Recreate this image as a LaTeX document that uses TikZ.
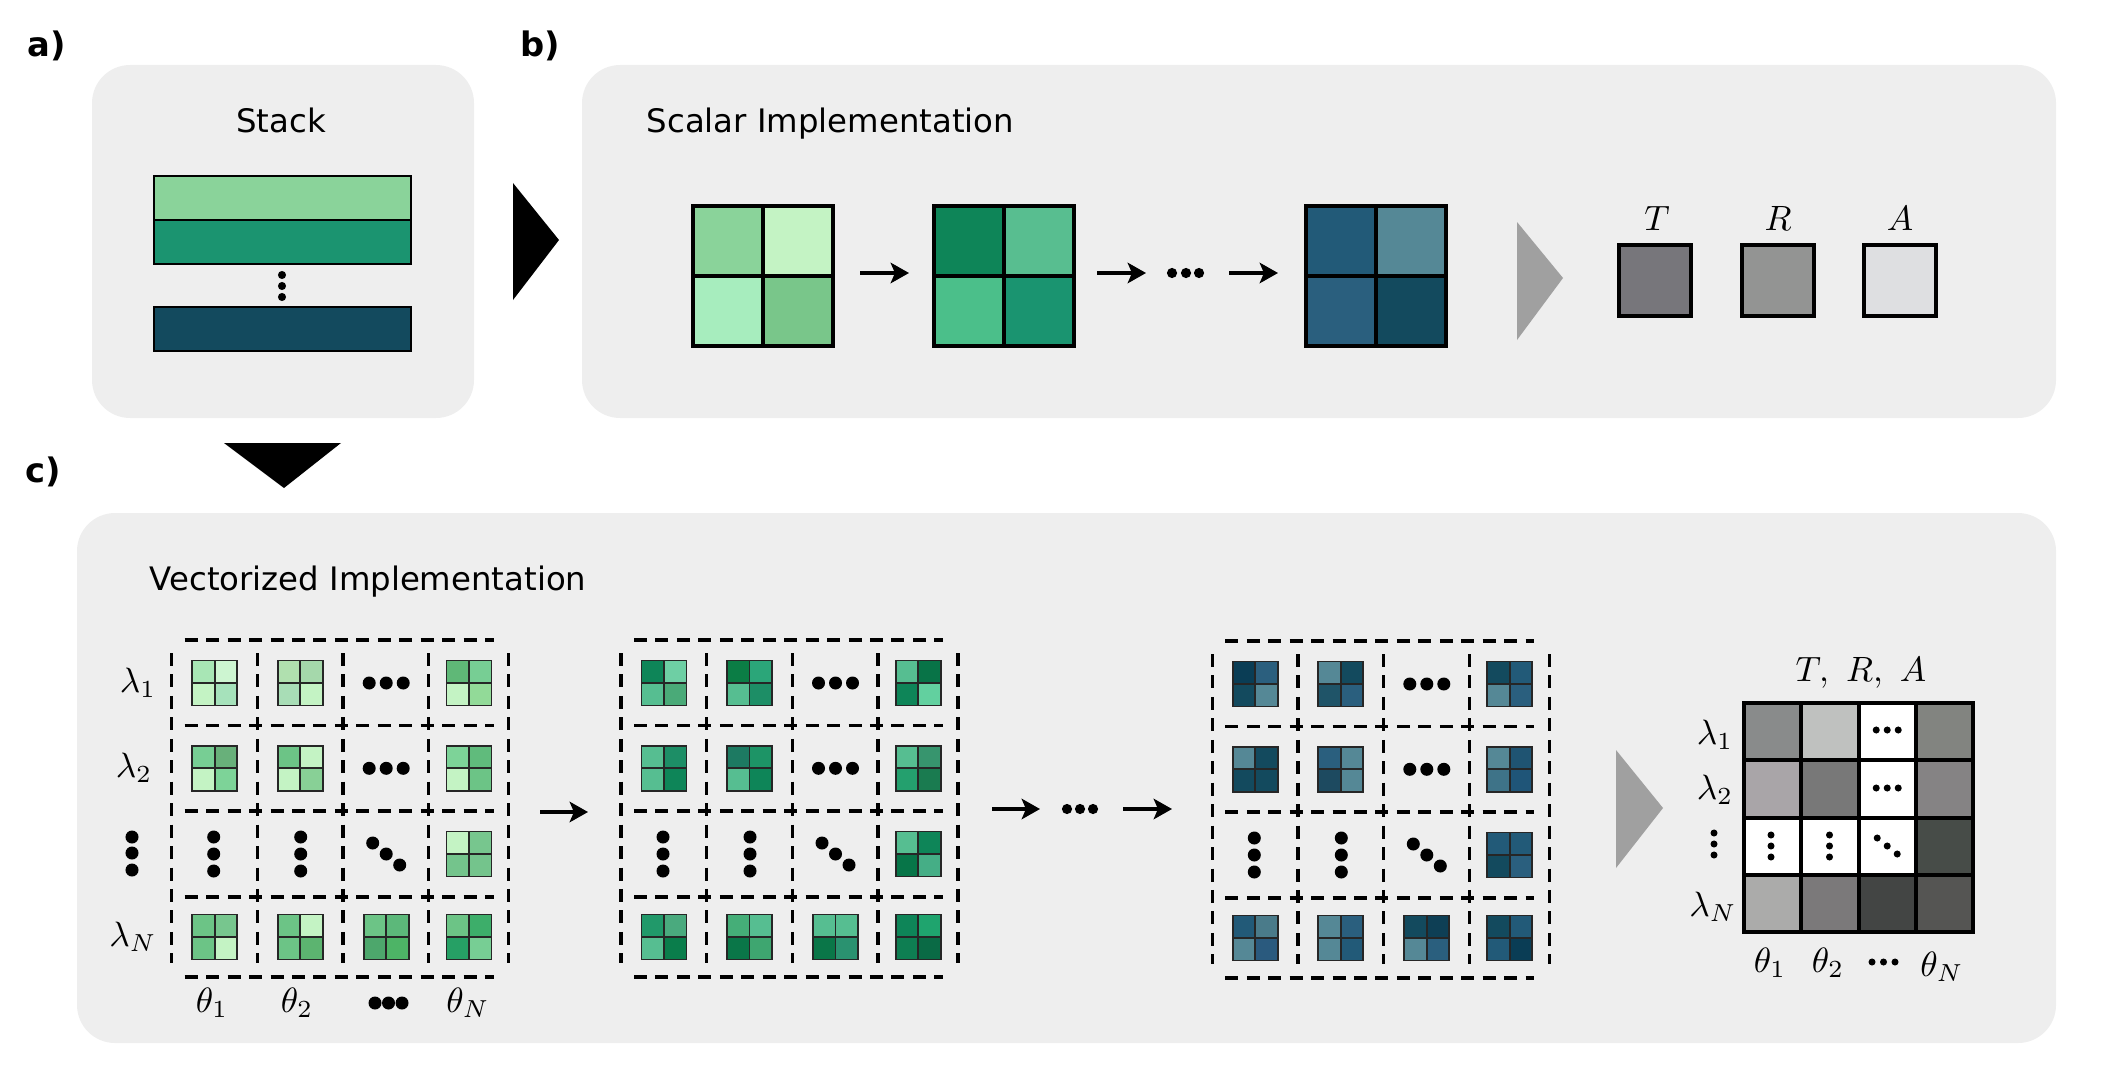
\documentclass[tikz,border=0pt]{standalone}
\usepackage{fontspec}
\usetikzlibrary{arrows.meta}
\newfontfamily\dvs{DejaVu Sans}
\definecolor{panel}{HTML}{EEEEEE}
\definecolor{tri}{HTML}{A0A0A0}
\tikzset{
  title/.style={font=\dvs\fontsize{9.2}{11}\selectfont, inner sep=0pt},
  plabel/.style={font=\dvs\bfseries\fontsize{9.6}{11}\selectfont, inner sep=0pt},
  mlab/.style={font=\fontsize{9.6}{11}\selectfont, inner sep=0pt},
  panelbox/.style={fill=panel, rounded corners=0.38cm},
  dashline/.style={line width=0.95pt, dash pattern=on 3.7pt off 2.4pt},
  smline/.style={line width=0.55pt, draw=black!85},
  bigline/.style={line width=1.14pt},
  arr/.style={line width=1.14pt, -{Stealth[length=5.2pt,width=5.8pt,inset=1.2pt]}},
}
\newcommand{\mysq}[6]{%
  \definecolor{qa}{HTML}{#3}\definecolor{qb}{HTML}{#4}%
  \definecolor{qc}{HTML}{#5}\definecolor{qd}{HTML}{#6}%
  \fill[qa] (#1-22.5,#2-22.5) rectangle (#1,#2);
  \fill[qb] (#1,#2-22.5) rectangle (#1+22.5,#2);
  \fill[qc] (#1-22.5,#2) rectangle (#1,#2+22.5);
  \fill[qd] (#1,#2) rectangle (#1+22.5,#2+22.5);
  \draw[smline] (#1-22.5,#2-22.5) rectangle (#1+22.5,#2+22.5)
     (#1,#2-22.5) -- (#1,#2+22.5) (#1-22.5,#2) -- (#1+22.5,#2);
}
\newcommand{\mybig}[6]{%
  \definecolor{qa}{HTML}{#3}\definecolor{qb}{HTML}{#4}%
  \definecolor{qc}{HTML}{#5}\definecolor{qd}{HTML}{#6}%
  \fill[qa] (#1,#2) rectangle (#1+72,#2+72);
  \fill[qb] (#1+72,#2) rectangle (#1+144,#2+72);
  \fill[qc] (#1,#2+72) rectangle (#1+72,#2+144);
  \fill[qd] (#1+72,#2+72) rectangle (#1+144,#2+144);
  \draw[bigline] (#1+2,#2+2) rectangle (#1+142,#2+142)
     (#1+72,#2) -- (#1+72,#2+144) (#1,#2+72) -- (#1+144,#2+72);
}
\newcommand{\gridframe}{%
  \foreach \v in {0,85.7,171.4,257,337} \draw[dashline] (\v,13) -- (\v,323);
  \foreach \h in {0,85.7,171,257,337} \draw[dashline] (13,\h) -- (322,\h);
  \foreach \yy in {43,128.3} \foreach \dx in {-17,0,17} \fill (214.5+\dx,\yy) circle[radius=1.85pt];
  \foreach \xx in {42,129} \foreach \dy in {-17,0,17} \fill (\xx,214+\dy) circle[radius=1.85pt];
  \foreach \d in {-1,0,1} \fill (214.5+13.5*\d,214+11*\d) circle[radius=1.85pt];
}
\begin{document}
\begin{tikzpicture}[x=0.01cm,y=-0.01cm]
\useasboundingbox (0,0) rectangle (2113,1070);
% panels
\fill[panelbox] (92,65) rectangle (474,418);
\fill[panelbox] (582,65) rectangle (2056,418);
\fill[panelbox] (77,513) rectangle (2056,1043);
% labels
\node[plabel, anchor=base west] (la) at (27,57) {a)};
\node[plabel, anchor=base west] (lb) at (520,57) {b)};
\node[plabel, anchor=base west] (lc) at (25,482) {c)};
% panel a
\node[title, anchor=base] (stack) at (281,133) {Stack};
\draw[line width=0.5pt, fill={rgb,255:red,138;green,211;blue,154}] (154,176) rectangle (411,220);
\draw[line width=0.5pt, fill={rgb,255:red,27;green,148;blue,112}] (154,220) rectangle (411,264);
\draw[line width=0.5pt, fill={rgb,255:red,19;green,74;blue,94}] (154,307) rectangle (411,351);
\foreach \yy in {275,286,297} \fill (282,\yy) circle[radius=1.15pt];
% black triangles
\fill (513,183) -- (559,240) -- (513,300) -- cycle;
\fill (224,443) -- (341,443) -- (284,488) -- cycle;
% panel b
\node[title, anchor=base west] (scalar) at (646,133) {Scalar Implementation};
\mybig{691}{204}{8AD39A}{C4F3C4}{A7EDBE}{79C68A}
\mybig{932}{204}{0E8558}{58BE90}{4BBF8A}{1A9470}
\mybig{1304}{204}{225A78}{558896}{2A5F7E}{134A5E}
\coordinate (b1s) at (860,273); \coordinate (b1e) at (909,273);
\coordinate (b2s) at (1097,273); \coordinate (b2e) at (1146,273);
\coordinate (b3s) at (1229,273); \coordinate (b3e) at (1278,273);
\draw[arr] (b1s) -- (b1e);
\draw[arr] (b2s) -- (b2e);
\draw[arr] (b3s) -- (b3e);
\foreach \xx in {1172,1186,1199} \fill (\xx,273) circle[radius=1.45pt];
\fill[tri] (1517,222) -- (1563,278) -- (1517,340) -- cycle;
\definecolor{cT}{HTML}{77767B}\definecolor{cR}{HTML}{939493}\definecolor{cA}{HTML}{DEDFE1}
\draw[bigline, fill=cT] (1619,245) rectangle (1691,316);
\draw[bigline, fill=cR] (1742,245) rectangle (1814,316);
\draw[bigline, fill=cA] (1864,245) rectangle (1936,316);
\node[mlab] (lT) at (1657,218) {$T$};
\node[mlab] (lR) at (1778,218) {$R$};
\node[mlab] (lA) at (1900,218) {$A$};
% panel c
\node[title, anchor=base west] (vect) at (149,590) {Vectorized Implementation};
% grid 1
\begin{scope}[shift={(171.7,640)}]
\gridframe
\mysq{43}{43}{A8E6B5}{CDF5D1}{C4F3C4}{A6E2BB}
\mysq{128.5}{43}{B0E0AF}{A5D8AB}{A8DDB6}{C4F3C4}
\mysq{297.3}{43}{5FB877}{77CE94}{C4F3C4}{92DA98}
\mysq{43}{128.3}{77CE94}{68B07A}{C4F3C4}{7DD398}
\mysq{128.5}{128.3}{6CC486}{C4F3C4}{C4F3C4}{88D096}
\mysq{297.3}{128.3}{7DD398}{60BB7C}{C4F3C4}{6CC486}
\mysq{297.3}{214}{C4F3C4}{77C68E}{74C48C}{74C48C}
\mysq{43}{297}{6CC486}{77C68E}{6CC486}{C4F3C4}
\mysq{128.5}{297}{6CC486}{C4F3C4}{6CC486}{5CB470}
\mysq{214.5}{297}{6CC486}{5CB87A}{4DA76C}{4DB466}
\mysq{297.3}{297}{6CC486}{3DAE6A}{26A065}{77CE94}
\end{scope}
\node[mlab] (g1l1) at (138,683) {$\lambda_1$};
\node[mlab] (g1l2) at (134,768) {$\lambda_2$};
\foreach \yy in {837,853,870} \fill (132,\yy) circle[radius=1.85pt];
\node[mlab] (g1lN) at (133,937) {$\lambda_N$};
\node[mlab] (g1t1) at (212,1003) {$\theta_1$};
\node[mlab] (g1t2) at (297,1003) {$\theta_2$};
\foreach \xx in {375,388.5,402} \fill (\xx,1003) circle[radius=1.85pt];
\node[mlab] (g1tN) at (468,1003) {$\theta_N$};
% arrow 1->2
\coordinate (c1s) at (540,812); \coordinate (c1e) at (588,812);
\draw[arr] (c1s) -- (c1e);
% grid 2
\begin{scope}[shift={(621,640)}]
\gridframe
\mysq{43}{43}{0E8558}{6ECFA4}{56BE91}{4AAA78}
\mysq{128.5}{43}{0B7D45}{2BA679}{56BE91}{1D8E66}
\mysq{297.3}{43}{56BE91}{087347}{0E8558}{62D09F}
\mysq{43}{128.3}{56BE91}{1D8E66}{56BE91}{0E8558}
\mysq{128.5}{128.3}{1D7A62}{1D9466}{56BE91}{0E8558}
\mysq{297.3}{128.3}{56BE91}{37956E}{24A06E}{1A7B50}
\mysq{297.3}{214}{56BE91}{0E8558}{077548}{45AE86}
\mysq{43}{297}{21996A}{4AAA7E}{56BE91}{0A7D4B}
\mysq{128.5}{297}{45AE78}{56BE91}{0A7648}{3EA670}
\mysq{214.5}{297}{56BE91}{56BE91}{0A7648}{2A9270}
\mysq{297.3}{297}{0E8558}{1FA46E}{0E7E52}{0A6A45}
\end{scope}
% arrows 2->3
\coordinate (c2s) at (992,809); \coordinate (c2e) at (1040,809);
\coordinate (c3s) at (1123,809); \coordinate (c3e) at (1172,809);
\draw[arr] (c2s) -- (c2e);
\draw[arr] (c3s) -- (c3e);
\foreach \xx in {1067,1080,1093} \fill (\xx,809) circle[radius=1.45pt];
% grid 3
\begin{scope}[shift={(1212.3,641)}]
\gridframe
\mysq{43}{43}{0A3D55}{2B5F7E}{134A5E}{558896}
\mysq{128.5}{43}{558896}{134A5E}{1F5468}{2A5F7E}
\mysq{297.3}{43}{134A5E}{225A78}{558896}{2A5F7E}
\mysq{43}{128.3}{558896}{134A5E}{134A5E}{134A5E}
\mysq{128.5}{128.3}{2A5F7E}{558896}{1D4A60}{558896}
\mysq{297.3}{128.3}{558896}{1F5472}{3E7388}{1F5578}
\mysq{297.3}{214}{225A78}{225A78}{134A5E}{2A5F7E}
\mysq{43}{297}{225A78}{4A7B8A}{558896}{2A5A7E}
\mysq{128.5}{297}{558896}{2A5F7E}{558896}{225A78}
\mysq{214.5}{297}{134A5E}{0E3F55}{558896}{2A5F7E}
\mysq{297.3}{297}{134A5E}{225A78}{225A78}{0A3D55}
\end{scope}
% gray triangle c
\fill[tri] (1616,750) -- (1663,808) -- (1616,868) -- cycle;
% output grid
\begin{scope}[shift={(1744,703)}]
\def\s{57.3}
\foreach \c [count=\j from 0] in {898B8B,BFC1BF,FFFFFF,828480} {\definecolor{oc}{HTML}{\c}\fill[oc] (\j*\s,0) rectangle (\j*\s+\s,\s);}
\foreach \c [count=\j from 0] in {A9A5A8,787878,FFFFFF,858384} {\definecolor{oc}{HTML}{\c}\fill[oc] (\j*\s,\s) rectangle (\j*\s+\s,2*\s);}
\foreach \c [count=\j from 0] in {FFFFFF,FFFFFF,FFFFFF,474C48} {\definecolor{oc}{HTML}{\c}\fill[oc] (\j*\s,2*\s) rectangle (\j*\s+\s,3*\s);}
\foreach \c [count=\j from 0] in {ABABAA,7B797A,434544,555553} {\definecolor{oc}{HTML}{\c}\fill[oc] (\j*\s,3*\s) rectangle (\j*\s+\s,4*\s);}
\foreach \k in {0,1,2,3,4} {\draw[bigline] (\k*\s,-2) -- (\k*\s,4*\s+2); \draw[bigline] (-2,\k*\s) -- (4*\s+2,\k*\s);}
\foreach \yy in {27,85} \foreach \dx in {-11,0,11} \fill (143.2+\dx,\yy) circle[radius=1.0pt];
\foreach \xx in {27,85.5} \foreach \dy in {-11,0,11} \fill (\xx,143+\dy) circle[radius=1.0pt];
\foreach \d in {-1,0,1} \fill (143.2+10*\d,143+8*\d) circle[radius=1.0pt];
\end{scope}
\node[mlab] (otra) at (1861,673) {$T,\ R,\ A$};
\node[mlab] (ol1) at (1715,735) {$\lambda_1$};
\node[mlab] (ol2) at (1715,790) {$\lambda_2$};
\foreach \yy in {833,844,855} \fill (1714,\yy) circle[radius=1.0pt];
\node[mlab] (olN) at (1713,907) {$\lambda_N$};
\node[mlab] (ot1) at (1770,963) {$\theta_1$};
\node[mlab] (ot2) at (1828,963) {$\theta_2$};
\foreach \xx in {1872,1883.5,1895} \fill (\xx,962) circle[radius=1.0pt];
\node[mlab] (otN) at (1942,967) {$\theta_N$};
\end{tikzpicture}
\end{document}
